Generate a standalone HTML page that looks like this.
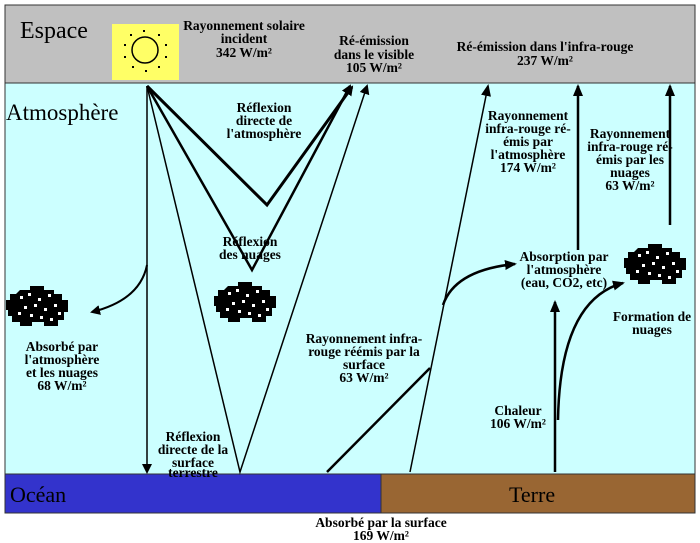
<!DOCTYPE html>
<html><head><meta charset="utf-8"><style>
body{margin:0;background:#fff;}
svg{display:block}
text{font-family:"Liberation Serif",serif;}
.b{font-weight:bold;font-size:13.5px;text-anchor:middle;fill:#000}
</style></head><body>
<svg width="700" height="543" viewBox="0 0 700 543" xmlns="http://www.w3.org/2000/svg">
<defs>
<marker id="ah" markerWidth="10" markerHeight="10" refX="8" refY="5" orient="auto" markerUnits="userSpaceOnUse"><path d="M0,0 L10,5 L0,10 z" fill="#000"/></marker>
<marker id="ahs" markerWidth="12" markerHeight="12" refX="10" refY="6" orient="auto" markerUnits="userSpaceOnUse"><path d="M0,1 L12,6 L0,11 z" fill="#000"/></marker>
<g id="cloud">
<path d="M12,6 h10 v-4 h14 v4 h10 v4 h8 v6 h6 v12 h-4 v8 h-6 v6 h-14 v-4 h-12 v4 h-12 v-4 h-8 v-6 h-4 v-6 h-2 v-10 h4 v-6 h6 z" fill="#000"/>
<g fill="#fff"><rect x="12" y="12" width="3" height="3"/><rect x="20" y="9" width="3" height="3"/><rect x="30" y="14" width="3" height="3"/><rect x="40" y="10" width="3" height="3"/><rect x="16" y="22" width="3" height="3"/><rect x="26" y="20" width="3" height="3"/><rect x="36" y="24" width="3" height="3"/><rect x="46" y="20" width="3" height="3"/><rect x="22" y="30" width="3" height="3"/><rect x="32" y="32" width="3" height="3"/><rect x="50" y="28" width="3" height="3"/><rect x="10" y="28" width="3" height="3"/><rect x="42" y="34" width="3" height="3"/></g>
</g>
</defs>
<rect x="5" y="5" width="690" height="78" fill="#c0c0c0" stroke="#333"/>
<rect x="5" y="83" width="690" height="391" fill="#ccffff" stroke="#333"/>
<rect x="5" y="474" width="376" height="39" fill="#3333cc" stroke="#333"/>
<rect x="381" y="474" width="314" height="39" fill="#996633" stroke="#333"/>
<text x="20" y="38" font-size="24">Espace</text>
<text x="6" y="120" font-size="23">Atmosphère</text>
<text x="10" y="502" font-size="22">Océan</text>
<text x="509" y="502" font-size="22">Terre</text>
<rect x="112" y="24" width="67" height="56" fill="#ffff66"/>
<circle cx="145" cy="50" r="13" fill="none" stroke="#000" stroke-width="1.5"/>
<g fill="#000"><rect x="143" y="30" width="2" height="2"/><rect x="158" y="34" width="2" height="2"/><rect x="165" y="44" width="2" height="2"/><rect x="165" y="56" width="2" height="2"/><rect x="158" y="66" width="2" height="2"/><rect x="145" y="70" width="2" height="2"/><rect x="132" y="66" width="2" height="2"/><rect x="124" y="56" width="2" height="2"/><rect x="124" y="44" width="2" height="2"/><rect x="130" y="34" width="2" height="2"/></g>
<text class="b" x="244" y="30">Rayonnement solaire</text>
<text class="b" x="244" y="43">incident</text>
<text class="b" x="244" y="57">342 W/m²</text>
<text class="b" x="374" y="45">Ré-émission</text>
<text class="b" x="374" y="59">dans le visible</text>
<text class="b" x="374" y="72">105 W/m²</text>
<text class="b" x="545" y="51">Ré-émission dans l'infra-rouge</text>
<text class="b" x="545" y="65">237 W/m²</text>
<g stroke="#000" fill="none">
<line x1="147" y1="86" x2="147" y2="472" stroke-width="1.5" marker-end="url(#ah)"/>
<polyline points="147,86 267,205 352,87" stroke-width="3" marker-end="url(#ah)"/>
<polyline points="147,86 252,270 350,86" stroke-width="2.5" marker-end="url(#ah)"/>
<polyline points="147,86 240,472 367,86" stroke-width="1.5" marker-end="url(#ah)"/>
<path d="M147,265 Q140,300 92,312" stroke-width="2" marker-end="url(#ah)"/>
<line x1="410" y1="472" x2="488" y2="86" stroke-width="1.5" marker-end="url(#ahs)"/>
<line x1="327" y1="472" x2="430" y2="368" stroke-width="2.5"/>
<path d="M443,305 Q455,270 515,264" stroke-width="2.5" marker-end="url(#ahs)"/>
<line x1="578" y1="250" x2="578" y2="86" stroke-width="2.5" marker-end="url(#ahs)"/>
<line x1="670" y1="225" x2="670" y2="86" stroke-width="2.5" marker-end="url(#ahs)"/>
<line x1="555" y1="472" x2="555" y2="302" stroke-width="2.5" marker-end="url(#ahs)"/>
<path d="M558,420 Q560,300 623,283" stroke-width="2.5" marker-end="url(#ahs)"/>
</g>
<use href="#cloud" x="8" y="284"/>
<use href="#cloud" x="216" y="280"/>
<use href="#cloud" x="626" y="242"/>
<text class="b" x="264" y="112">Réflexion</text>
<text class="b" x="264" y="125">directe de</text>
<text class="b" x="264" y="138">l'atmosphère</text>
<text class="b" x="250" y="246">Réflexion</text>
<text class="b" x="250" y="259">des nuages</text>
<text class="b" x="528" y="120">Rayonnement</text>
<text class="b" x="528" y="133">infra-rouge ré-</text>
<text class="b" x="528" y="146">émis par</text>
<text class="b" x="528" y="159">l'atmosphère</text>
<text class="b" x="528" y="172">174 W/m²</text>
<text class="b" x="630" y="138">Rayonnement</text>
<text class="b" x="630" y="151">infra-rouge ré-</text>
<text class="b" x="630" y="164">émis par les</text>
<text class="b" x="630" y="177">nuages</text>
<text class="b" x="630" y="190">63 W/m²</text>
<text class="b" x="564" y="261">Absorption par</text>
<text class="b" x="564" y="274">l'atmosphère</text>
<text class="b" x="564" y="287">(eau, CO2, etc)</text>
<text class="b" x="652" y="321">Formation de</text>
<text class="b" x="652" y="334">nuages</text>
<text class="b" x="62" y="351">Absorbé par</text>
<text class="b" x="62" y="364">l'atmosphère</text>
<text class="b" x="62" y="377">et les nuages</text>
<text class="b" x="62" y="390">68 W/m²</text>
<text class="b" x="364" y="343">Rayonnement infra-</text>
<text class="b" x="364" y="356">rouge réémis par la</text>
<text class="b" x="364" y="369">surface</text>
<text class="b" x="364" y="382">63 W/m²</text>
<text class="b" x="518" y="415">Chaleur</text>
<text class="b" x="518" y="428">106 W/m²</text>
<text class="b" x="193" y="441">Réflexion</text>
<text class="b" x="193" y="454">directe de la</text>
<text class="b" x="193" y="467">surface</text>
<text class="b" x="193" y="477">terrestre</text>
<text class="b" x="381" y="527">Absorbé par la surface</text>
<text class="b" x="381" y="540">169 W/m²</text>
</svg>
</body></html>
